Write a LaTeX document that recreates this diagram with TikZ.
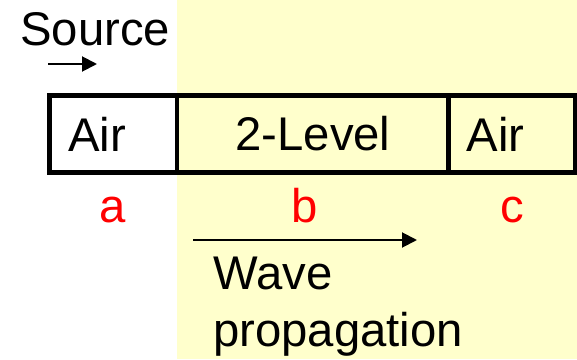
\documentclass[tikz,border=0pt]{standalone}
\usepackage{fontspec}
\setmainfont{Liberation Sans}
\usepackage{xcolor}
\usepackage{tikz}
\usetikzlibrary{arrows.meta}

\definecolor{paleyellow}{RGB}{255,255,204}

\begin{document}
\begin{tikzpicture}[
  cell/.style={draw, line width=2.8pt, minimum height=1.54cm, inner ysep=0pt, font=\fontsize{26.9}{31.9}\selectfont},
  aircell/.style={cell, inner xsep=0.37cm, text width=1.81cm, align=left},
  txt/.style={font=\fontsize{26.9}{31.9}\selectfont, inner sep=0pt},
  lbl/.style={txt, text=red, anchor=base},
  arr/.style={-{Triangle[length=0.3cm, width=0.3cm]}, line width=1.1pt}
]
\useasboundingbox (0,0) rectangle (11.54,7.18);
\fill[paleyellow] (3.54,0) rectangle (11.54,7.18);

\node[txt, anchor=base west] (source) at (0.40,6.28) {Source};
\coordinate (srcA) at (0.96,5.90);
\coordinate (srcB) at (1.94,5.90);
\draw[arr] (srcA) -- (srcB);

\node[aircell, minimum width=2.55cm] (cella) at (2.265,4.5) {Air};
\node[cell, minimum width=5.44cm] (cellb) at (6.26,4.5) {2-Level};
\node[aircell, minimum width=2.52cm] (cellc) at (10.24,4.5) {Air};

\node[lbl] (la) at (2.26,2.74) {a};
\node[lbl] (lb) at (6.10,2.74) {b};
\node[lbl] (lc) at (10.24,2.74) {c};

\coordinate (waveA) at (3.86,2.38);
\coordinate (waveB) at (8.34,2.38);
\draw[arr] (waveA) -- (waveB);
% base is the last line here
\node[txt, align=left, anchor=base west] (wave) at (4.26,0.26) {Wave\\propagation};
\end{tikzpicture}
\end{document}
